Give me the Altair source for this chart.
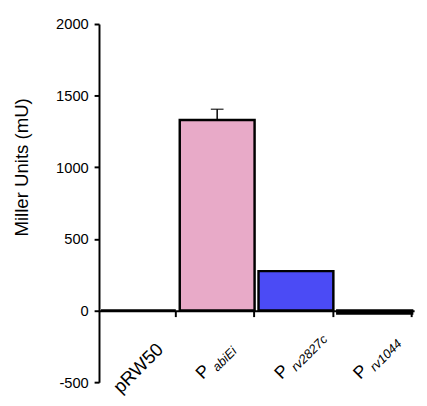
import altair as alt
import pandas as pd

categories = ["pRW50", "PabiEi", "Prv2827c", "Prv1044"]
values = [0, 1330, 275, -20]
errors = [0, 75, 0, 0]
colors = ["#FFFFFF", "#E8AAC8", "#4B4BF5", "#000000"]
plain_labels = ["pRW50", "", "", ""]
main_labels = ["", "P", "P", "P"]
sub_labels = ["", "abiEi", "rv2827c", "rv1044"]
y_ticks = [-500, 0, 500, 1000, 1500, 2000]

df = pd.DataFrame({
    "cat": categories,
    "value": values,
    "err": errors,
    "top": [v + e for v, e in zip(values, errors)],
})

FONT = "Liberation Sans"

x_scale = alt.Scale(paddingInner=0.05, paddingOuter=0.025)
y_scale = alt.Scale(domain=[y_ticks[0], y_ticks[-1]], nice=False)

x_axis = alt.Axis(
    labels=False, title=None, ticks=True, tickSize=6, tickWidth=2,
    tickColor="black", domainColor="black", domainWidth=2,
    offset=-73, bandPosition=1, grid=False,
)
y_axis = alt.Axis(
    values=y_ticks, grid=False, tickSize=5, tickWidth=2, tickColor="black",
    domainColor="black", domainWidth=2, labelFontSize=15, labelFont=FONT,
    labelColor="black", labelPadding=6, labelExpr="'' + datum.value",
    title="Miller Units (mU)", titleFont=FONT, titleFontSize=19,
    titleFontWeight="normal", titleColor="black", titleX=-79, titleY=146,
    titleAngle=270, titleAlign="center", titleBaseline="middle",
)
x_enc = alt.X("cat:N", sort=categories, scale=x_scale, axis=x_axis)
y_enc = alt.Y("value:Q", scale=y_scale, axis=y_axis)

bars = alt.Chart(df).mark_bar(stroke="black", strokeWidth=2.5).encode(
    x=x_enc,
    y=y_enc,
    color=alt.Color("cat:N", scale=alt.Scale(domain=categories, range=colors), legend=None),
)

err_df = df[df["err"] > 0]
err_rule = alt.Chart(err_df).mark_rule(color="black", strokeWidth=1.5).encode(
    x=x_enc, y=y_enc, y2="top:Q",
)
err_cap = alt.Chart(err_df).mark_tick(color="black", thickness=1.5, size=13).encode(
    x=x_enc, y=alt.Y("top:Q", scale=y_scale, axis=y_axis),
)

label_layers = []
for cat, plain, main, sub in zip(categories, plain_labels, main_labels, sub_labels):
    one = df[df["cat"] == cat]
    if plain:
        label_layers.append(
            alt.Chart(one).mark_text(
                text=plain, angle=315, fontSize=19, font=FONT, color="black",
                align="center", baseline="middle", dx=10, dy=-10,
            ).encode(x=x_enc, y=alt.datum(y_ticks[0], scale=y_scale))
        )
    if main:
        label_layers.append(
            alt.Chart(one).mark_text(
                text=main, angle=315, fontSize=18, font=FONT, color="black",
                align="right", baseline="alphabetic", dx=3, dy=-12,
            ).encode(x=x_enc, y=alt.datum(y_ticks[0], scale=y_scale))
        )
    if sub:
        label_layers.append(
            alt.Chart(one).mark_text(
                text=sub, angle=315, fontSize=13, font=FONT, fontStyle="italic",
                color="black", align="left", baseline="alphabetic", dx=7.6, dy=-7.1,
            ).encode(x=x_enc, y=alt.datum(y_ticks[0], scale=y_scale))
        )

chart = alt.layer(bars, err_rule, err_cap, *label_layers).properties(
    width=322,
    height=366,
    view=alt.ViewBackground(strokeWidth=0),
)

chart.save("out.html", embed_options={"renderer": "svg", "actions": False})
